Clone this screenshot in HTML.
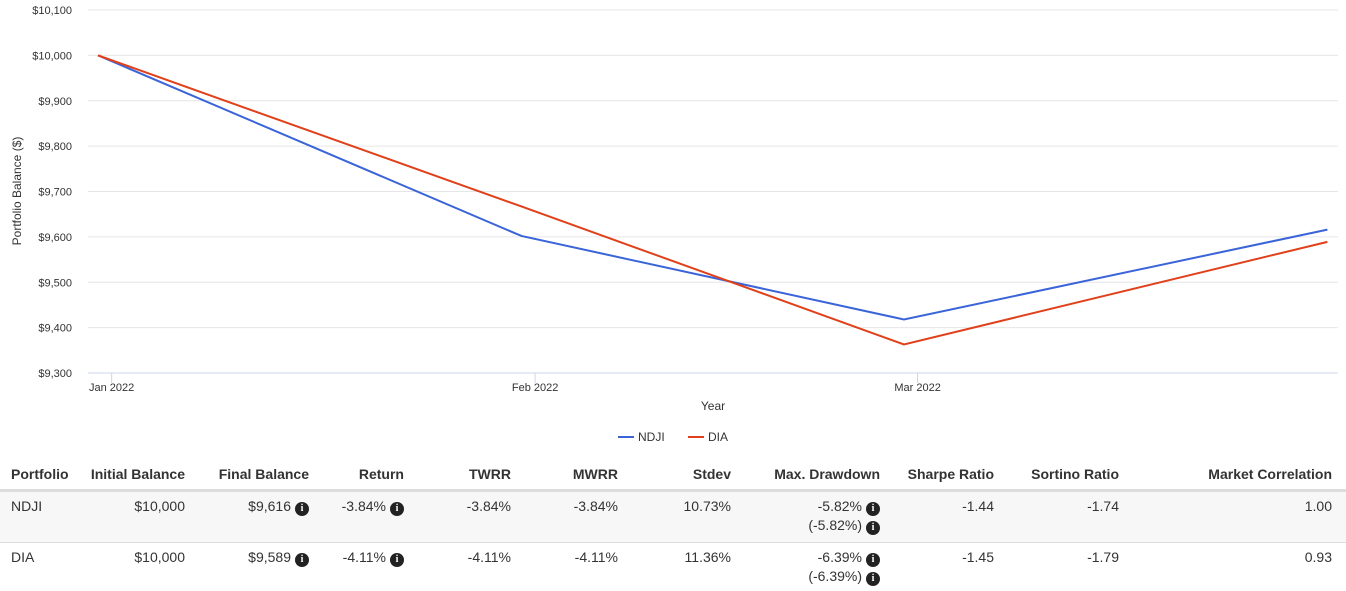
<!DOCTYPE html>
<html><head><meta charset="utf-8"><style>
body{margin:0;width:1346px;height:591px;background:#fff;font-family:"Liberation Sans",sans-serif;color:#333;overflow:hidden;position:relative}
svg text{font-family:"Liberation Sans",sans-serif}
.c{position:absolute;font-size:14px;white-space:nowrap}
.h{font-weight:bold}
.i{display:inline-block;width:14px;height:14px;border-radius:50%;background:#222;color:#fff;font-size:10px;font-weight:bold;text-align:center;line-height:14px;vertical-align:0px;margin-left:4px;font-family:"Liberation Serif",serif}
</style></head><body>
<svg id="chart" width="1346" height="450" style="position:absolute;left:0;top:0"></svg>
<div style="position:absolute;left:0;top:489px;width:1346px;height:3px;background:#ddd"></div>
<div style="position:absolute;left:0;top:492px;width:1346px;height:50px;background:#f7f7f7;border-bottom:1px solid #ddd"></div>
<div id="tbl"></div>
<script>
const dates=["2022-01-01","2022-02-01","2022-03-01","2022-04-01"];
const ndji=[10000,9602,9418,9616];
const dia=[10000,9667,9363,9589];
const yTicks=[9300,9400,9500,9600,9700,9800,9900,10000,10100];
const xTickLabels=["Jan 2022","Feb 2022","Mar 2022"];
const xTickDates=["2022-01-02","2022-02-02","2022-03-02"];
const NS="http://www.w3.org/2000/svg";
const svg=document.getElementById('chart');
const t0=Date.parse(dates[0]);
const X=d=>98+(Date.parse(d)-t0)/86400000*13.66;
const Y=v=>373-(v-9300)*(363/800);
function mk(tag,attrs,txt){const e=document.createElementNS(NS,tag);for(const k in attrs)e.setAttribute(k,attrs[k]);if(txt!=null)e.textContent=txt;svg.appendChild(e);return e;}
yTicks.forEach(v=>{
 const l=mk('line',{x1:88,x2:1338,y1:Y(v),y2:Y(v),stroke:v===9300?'#ccd6eb':'#e6e6e6','stroke-width':1});
 
 
 const t=mk('text',{x:72,y:Y(v)+4,'text-anchor':'end','font-size':11,fill:'#333'},'$'+v.toLocaleString('en-US'));
 
 
});
xTickDates.forEach((d,i)=>{
 const l=mk('line',{x1:X(d),x2:X(d),y1:373,y2:383,stroke:'#ccd6eb'});
 
 
 const t=mk('text',{x:X(d),y:391,'text-anchor':'middle','font-size':11,fill:'#333'},xTickLabels[i]);
 
 
});
const yt=mk('text',{x:0,y:0,transform:'translate(21,191) rotate(-90)','text-anchor':'middle','font-size':12,fill:'#333'},'Portfolio Balance ($)');


const xt=mk('text',{x:713,y:410,'text-anchor':'middle','font-size':12,fill:'#333'},'Year');


function series(vals,color,name){
 const p=mk('polyline',{points:vals.map((v,i)=>X(dates[i])+','+Y(v)).join(' '),fill:'none',stroke:color,'stroke-width':2});
 
 
}
series(ndji,'#3a64d8','ndji-line');
series(dia,'#e0401a','dia-line');
[['NDJI','#3a64d8',618],['DIA','#e0401a',688]].forEach(([n,c,x])=>{
 const l=mk('line',{x1:x,x2:x+16,y1:437,y2:437,stroke:c,'stroke-width':2});
 
 
 const t=mk('text',{x:x+20,y:441,'font-size':12,fill:'#333'},n);
 
 
});
const I='<span class="i">i</span>';
const cols=[["Portfolio",11,'l'],["Initial Balance",185],["Final Balance",309],["Return",404],["TWRR",511],["MWRR",618],["Stdev",731],["Max. Drawdown",880],["Sharpe Ratio",994],["Sortino Ratio",1119],["Market Correlation",1332]];
const rows=[["NDJI","$10,000","$9,616"+I,"-3.84%"+I,"-3.84%","-3.84%","10.73%","-5.82%"+I+"<br>(-5.82%)"+I,"-1.44","-1.74","1.00"],
["DIA","$10,000","$9,589"+I,"-4.11%"+I,"-4.11%","-4.11%","11.36%","-6.39%"+I+"<br>(-6.39%)"+I,"-1.45","-1.79","0.93"]];
const tb=document.getElementById('tbl');
function cell(html,ci,top,cls,name){
 const d=document.createElement('div');
 d.className='c '+cls;d.innerHTML=html;d.style.top=top+'px';d.style.lineHeight='19px';
 if(cols[ci][2]==='l'){d.style.left=cols[ci][1]+'px';}else{d.style.right=(1346-cols[ci][1])+'px';d.style.textAlign='right';}
 
 
 tb.appendChild(d);
}
cols.forEach((c,i)=>cell(c[0],i,465,'h','header-'+c[0].toLowerCase().replace(/[^a-z]+/g,'-')));
rows.forEach((r,ri)=>r.forEach((v,ci)=>cell(v,ci,ri?548:497,'',(ri?'dia':'ndji')+'-cell')));
</script>
</body></html>
